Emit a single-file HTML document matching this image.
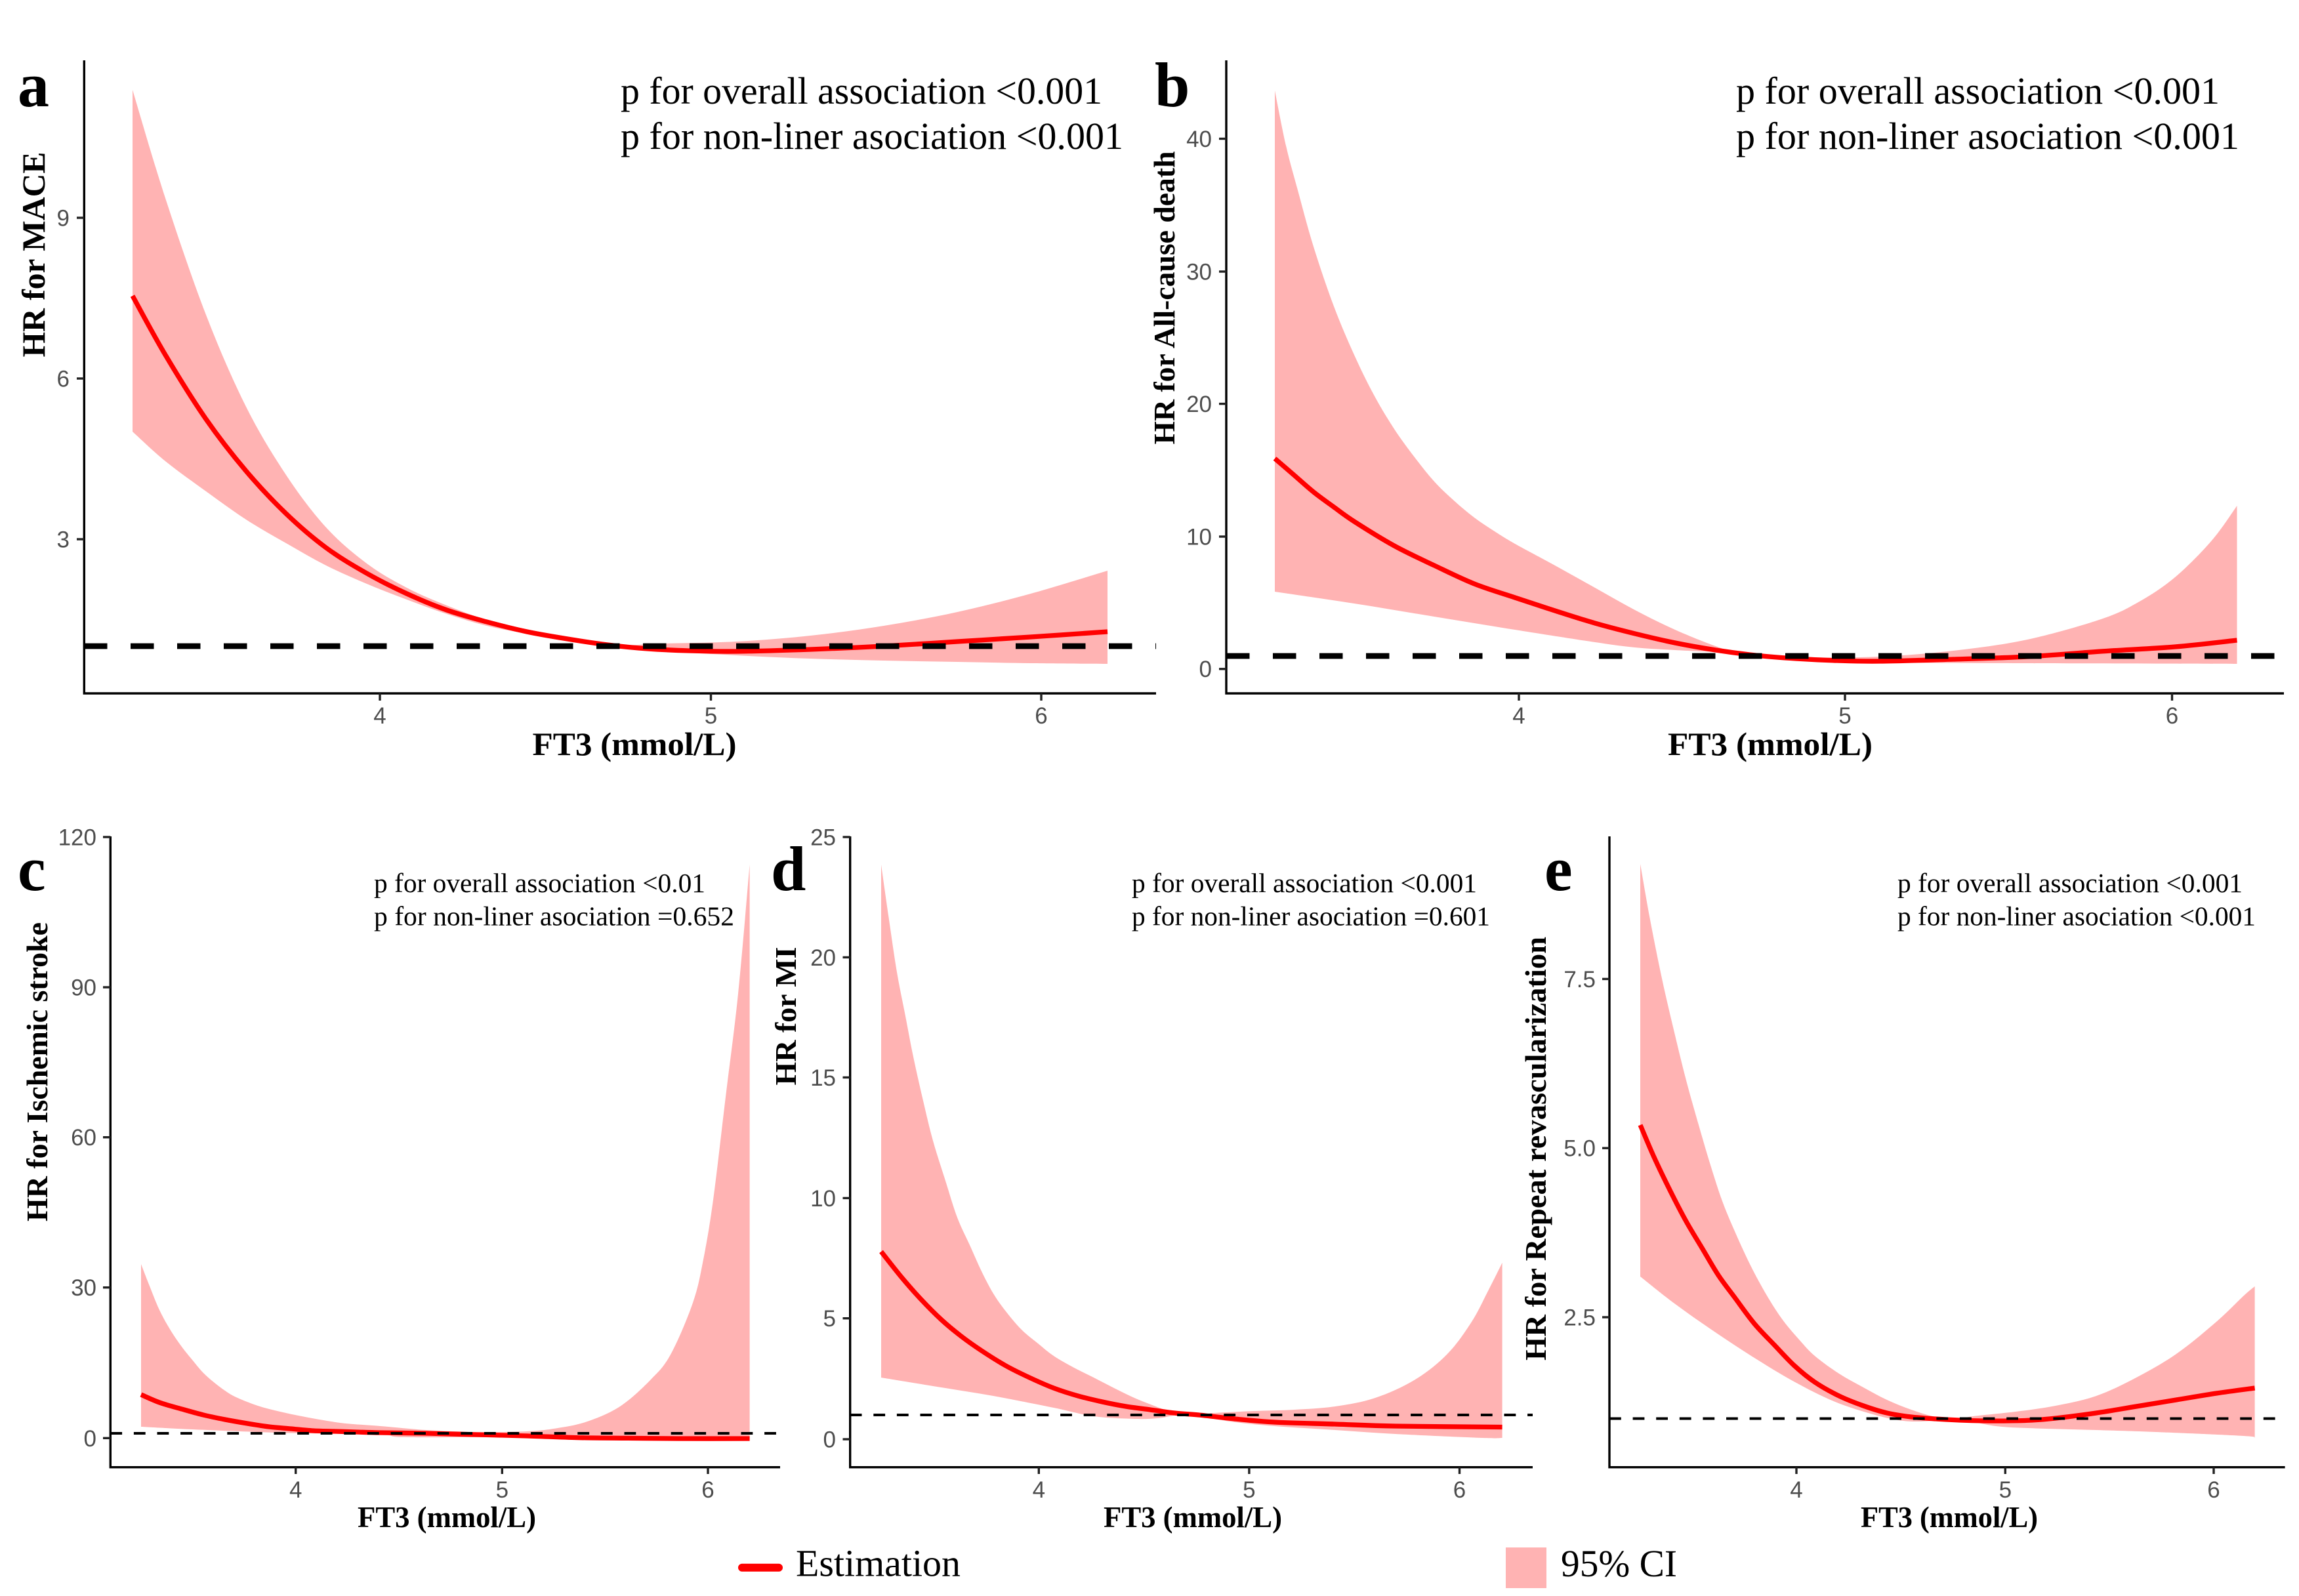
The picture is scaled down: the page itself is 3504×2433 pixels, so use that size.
<!DOCTYPE html>
<html>
<head>
<meta charset="utf-8">
<style>
  html, body { margin: 0; padding: 0; background: #ffffff; }
  svg { display: block; }
  .serif { font-family: "Liberation Serif", "Times New Roman", serif; }
  .sans { font-family: "Liberation Sans", Arial, sans-serif; }
  .tick { font-family: "Liberation Sans", Arial, sans-serif; font-size: 35px; fill: #4D4D4D; }
</style>
</head>
<body>
<svg id="fig" width="3504" height="2433" viewBox="0 0 3504 2433" xmlns="http://www.w3.org/2000/svg">
  <rect x="0" y="0" width="3504" height="2433" fill="#ffffff"/>

  <!-- ================= PANEL A ================= -->
  <polygon class="sm" fill="#FFB3B3" points="202,137 252,302 314,480 375,620 436,724 497,804 559,859 620,896 681,923 742,945 803,960 865,972 943,983 1010,981 1122,978 1235,969 1347,954 1459,933 1571,905 1688,870 1688,1012 1571,1011 1459,1009 1347,1007 1235,1004 1122,999 1010,992 943,983 865,975 803,966 742,954 681,936 620,914 559,890 497,862 436,828 375,792 314,749 252,703 202,658"/>
  <polyline class="sm" fill="none" stroke="#FF0000" stroke-width="7.3" stroke-linejoin="round" points="202,451 252,541 314,639 375,718 436,783 497,835 559,874 620,905 681,930 742,948 803,963 865,974 926,983 987,989 1050,992 1122,993 1235,990 1347,985 1459,978 1571,971 1688,963"/>
  <line x1="128" y1="985" x2="1762" y2="985" stroke="#000" stroke-width="8.7" stroke-dasharray="35.5 35.5"/>
  <polyline fill="none" stroke="#000" stroke-width="3.4" points="128.3,92 128.3,1057 1762,1057"/>
  <g stroke="#222" stroke-width="3.4">
    <line x1="117" y1="822" x2="128.3" y2="822"/>
    <line x1="117" y1="577" x2="128.3" y2="577"/>
    <line x1="117" y1="332" x2="128.3" y2="332"/>
    <line x1="579" y1="1057" x2="579" y2="1068"/>
    <line x1="1083.5" y1="1057" x2="1083.5" y2="1068"/>
    <line x1="1587" y1="1057" x2="1587" y2="1068"/>
  </g>
  <text class="tick" x="106" y="834.5" text-anchor="end">3</text>
  <text class="tick" x="106" y="589.5" text-anchor="end">6</text>
  <text class="tick" x="106" y="344.5" text-anchor="end">9</text>
  <text class="tick" x="579" y="1103" text-anchor="middle">4</text>
  <text class="tick" x="1083.5" y="1103" text-anchor="middle">5</text>
  <text class="tick" x="1587" y="1103" text-anchor="middle">6</text>
  <text class="serif" x="967" y="1151" text-anchor="middle" font-size="50" font-weight="bold" textLength="311" lengthAdjust="spacingAndGlyphs">FT3 (mmol/L)</text>
  <text class="serif" transform="translate(68,388) rotate(-90)" text-anchor="middle" font-size="50" font-weight="bold" textLength="313" lengthAdjust="spacingAndGlyphs">HR for MACE</text>
  <text class="serif" x="946" y="158" font-size="58" textLength="734" lengthAdjust="spacingAndGlyphs">p for overall association &lt;0.001</text>
  <text class="serif" x="946" y="227" font-size="58" textLength="766" lengthAdjust="spacingAndGlyphs">p for non-liner asociation &lt;0.001</text>
  <text class="serif" x="27" y="162" font-size="96" font-weight="bold">a</text>

  <!-- ================= PANEL B ================= -->
  <polygon class="sm" fill="#FFB3B3" points="1943,138 1960,222 1978,290 2002,376 2033,467 2064,541 2094,602 2125,654 2156,697 2186,734 2217,764 2247,789 2278,810 2309,829 2370,862 2431,896 2492,930 2553,960 2615,985 2655,996 2752,1002 2865,1001 2977,992 3090,975 3202,944 3259,918 3315,880 3371,824 3409.5,771 3409.5,1012 3090,1011 2865,1010 2752,1007 2655,996 2615,994 2553,991 2492,987 2431,979 2309,960 2186,940 2064,920 1943,902"/>
  <polyline class="sm" fill="none" stroke="#FF0000" stroke-width="7.3" stroke-linejoin="round" points="1943,699 1972,724 2002,750 2033,773 2064,795 2125,832 2186,862 2247,890 2309,911 2370,931 2431,950 2492,966 2553,980 2615,991 2676,999 2737,1004 2800,1007 2865,1008 2977,1005 3090,1001 3202,993 3315,986 3409.5,976"/>
  <line x1="1869" y1="1000" x2="3481" y2="1000" stroke="#000" stroke-width="8.7" stroke-dasharray="35.5 35.5"/>
  <polyline fill="none" stroke="#000" stroke-width="3.4" points="1869,92 1869,1057 3481,1057"/>
  <g stroke="#222" stroke-width="3.4">
    <line x1="1858" y1="1019.8" x2="1869" y2="1019.8"/>
    <line x1="1858" y1="818" x2="1869" y2="818"/>
    <line x1="1858" y1="615.6" x2="1869" y2="615.6"/>
    <line x1="1858" y1="414" x2="1869" y2="414"/>
    <line x1="1858" y1="211.5" x2="1869" y2="211.5"/>
    <line x1="2315" y1="1057" x2="2315" y2="1068"/>
    <line x1="2812" y1="1057" x2="2812" y2="1068"/>
    <line x1="3310.5" y1="1057" x2="3310.5" y2="1068"/>
  </g>
  <text class="tick" x="1847" y="1032" text-anchor="end">0</text>
  <text class="tick" x="1847" y="830.5" text-anchor="end">10</text>
  <text class="tick" x="1847" y="628" text-anchor="end">20</text>
  <text class="tick" x="1847" y="426.5" text-anchor="end">30</text>
  <text class="tick" x="1847" y="224" text-anchor="end">40</text>
  <text class="tick" x="2315" y="1103" text-anchor="middle">4</text>
  <text class="tick" x="2812" y="1103" text-anchor="middle">5</text>
  <text class="tick" x="3310.5" y="1103" text-anchor="middle">6</text>
  <text class="serif" x="2698" y="1151" text-anchor="middle" font-size="50" font-weight="bold" textLength="312" lengthAdjust="spacingAndGlyphs">FT3 (mmol/L)</text>
  <text class="serif" transform="translate(1790,454) rotate(-90)" text-anchor="middle" font-size="46" font-weight="bold" textLength="447" lengthAdjust="spacingAndGlyphs">HR for All-cause death</text>
  <text class="serif" x="2646" y="158" font-size="58" textLength="737" lengthAdjust="spacingAndGlyphs">p for overall association &lt;0.001</text>
  <text class="serif" x="2646" y="227" font-size="58" textLength="767" lengthAdjust="spacingAndGlyphs">p for non-liner asociation &lt;0.001</text>
  <text class="serif" x="1760" y="162" font-size="96" font-weight="bold">b</text>

  <!-- ================= PANEL C ================= -->
  <polygon class="sm" fill="#FFB3B3" points="215,1927 227,1958 243,1997 260,2028 277,2053 293,2073 310,2093 327,2108 343,2120 360,2130 393,2143 427,2152 460,2159 493,2165 527,2170 580,2174 650,2180 727,2183 803,2182 850,2177 895,2167 945,2144 991,2104 1022,2065 1056,1986 1072,1920 1087,1829 1106,1672 1125,1515 1142.6,1318 1142.6,2193 1033,2193 880,2192 727,2191 612,2190.8 580,2186.7 460,2185 393,2183 293,2179 215,2175"/>
  <polyline class="sm" fill="none" stroke="#FF0000" stroke-width="7.3" stroke-linejoin="round" points="215,2126 243,2138 277,2148 310,2157 343,2164 377,2170 410,2175 443,2178 477,2181 510,2182 543,2183 580,2184 650,2185 727,2187 804,2189 880,2191.6 957,2192.4 1033,2193 1142.6,2193"/>
  <line x1="168.3" y1="2185" x2="1189" y2="2185" stroke="#000" stroke-width="4" stroke-dasharray="17.8 17.8"/>
  <polyline fill="none" stroke="#000" stroke-width="3.4" points="168.3,1275 168.3,2236.7 1189,2236.7"/>
  <g stroke="#222" stroke-width="3.4">
    <line x1="157" y1="2192.3" x2="168.3" y2="2192.3"/>
    <line x1="157" y1="1962.7" x2="168.3" y2="1962.7"/>
    <line x1="157" y1="1733.7" x2="168.3" y2="1733.7"/>
    <line x1="157" y1="1505" x2="168.3" y2="1505"/>
    <line x1="157" y1="1276" x2="168.3" y2="1276"/>
    <line x1="450.7" y1="2236.7" x2="450.7" y2="2247"/>
    <line x1="765.3" y1="2236.7" x2="765.3" y2="2247"/>
    <line x1="1079" y1="2236.7" x2="1079" y2="2247"/>
  </g>
  <text class="tick" x="147" y="2205" text-anchor="end">0</text>
  <text class="tick" x="147" y="1975" text-anchor="end">30</text>
  <text class="tick" x="147" y="1746" text-anchor="end">60</text>
  <text class="tick" x="147" y="1517.5" text-anchor="end">90</text>
  <text class="tick" x="147" y="1288.5" text-anchor="end">120</text>
  <text class="tick" x="450.7" y="2283" text-anchor="middle">4</text>
  <text class="tick" x="765.3" y="2283" text-anchor="middle">5</text>
  <text class="tick" x="1079" y="2283" text-anchor="middle">6</text>
  <text class="serif" x="681" y="2328" text-anchor="middle" font-size="45" font-weight="bold" textLength="272" lengthAdjust="spacingAndGlyphs">FT3 (mmol/L)</text>
  <text class="serif" transform="translate(72,1634) rotate(-90)" text-anchor="middle" font-size="46" font-weight="bold" textLength="456" lengthAdjust="spacingAndGlyphs">HR for Ischemic stroke</text>
  <text class="serif" x="570" y="1360" font-size="41" textLength="505" lengthAdjust="spacingAndGlyphs">p for overall association &lt;0.01</text>
  <text class="serif" x="570" y="1410.5" font-size="41" textLength="549" lengthAdjust="spacingAndGlyphs">p for non-liner asociation =0.652</text>
  <text class="serif" x="27" y="1357" font-size="96" font-weight="bold">c</text>

  <!-- ================= PANEL D ================= -->
  <polygon class="sm" fill="#FFB3B3" points="1343,1318 1355,1402 1367,1482 1380,1549 1392,1611 1407,1678 1422,1739 1441,1800 1459,1856 1478,1898 1496,1938 1514,1972 1533,1999 1557,2027 1582,2048 1606,2067 1637,2085 1667,2100 1698,2116 1729,2131 1759,2143 1790,2154 1808,2157 1851,2154 1912,2151 1973,2149 2035,2144 2096,2131 2157,2103 2206,2064 2243,2015 2268,1968 2289.6,1925 2289.6,2192 2260,2192 2127,2186 2035,2180 1943,2174 1882,2168 1808,2157 1765,2162 1729,2163 1667,2159 1606,2146 1514,2128 1422,2113 1343,2100"/>
  <polyline class="sm" fill="none" stroke="#FF0000" stroke-width="7.3" stroke-linejoin="round" points="1343,1908 1374,1947 1404,1981 1435,2012 1465,2037 1496,2059 1533,2082 1569,2100 1606,2116 1643,2128 1680,2137 1716,2144 1753,2149 1790,2154 1827,2157 1882,2163 1943,2168 2035,2171 2127,2174 2289.6,2175.5"/>
  <line x1="1295.7" y1="2157" x2="2336" y2="2157" stroke="#000" stroke-width="4" stroke-dasharray="17.8 17.8"/>
  <polyline fill="none" stroke="#000" stroke-width="3.4" points="1295.7,1275 1295.7,2236.7 2336,2236.7"/>
  <g stroke="#222" stroke-width="3.4">
    <line x1="1284.5" y1="2194" x2="1295.7" y2="2194"/>
    <line x1="1284.5" y1="2009.7" x2="1295.7" y2="2009.7"/>
    <line x1="1284.5" y1="1826.4" x2="1295.7" y2="1826.4"/>
    <line x1="1284.5" y1="1642.5" x2="1295.7" y2="1642.5"/>
    <line x1="1284.5" y1="1459.4" x2="1295.7" y2="1459.4"/>
    <line x1="1284.5" y1="1276" x2="1295.7" y2="1276"/>
    <line x1="1583.3" y1="2236.7" x2="1583.3" y2="2247"/>
    <line x1="1903.9" y1="2236.7" x2="1903.9" y2="2247"/>
    <line x1="2224.5" y1="2236.7" x2="2224.5" y2="2247"/>
  </g>
  <text class="tick" x="1274" y="2206.5" text-anchor="end">0</text>
  <text class="tick" x="1274" y="2022" text-anchor="end">5</text>
  <text class="tick" x="1274" y="1839" text-anchor="end">10</text>
  <text class="tick" x="1274" y="1655" text-anchor="end">15</text>
  <text class="tick" x="1274" y="1472" text-anchor="end">20</text>
  <text class="tick" x="1274" y="1288.5" text-anchor="end">25</text>
  <text class="tick" x="1583.3" y="2283" text-anchor="middle">4</text>
  <text class="tick" x="1903.9" y="2283" text-anchor="middle">5</text>
  <text class="tick" x="2224.5" y="2283" text-anchor="middle">6</text>
  <text class="serif" x="1818" y="2328" text-anchor="middle" font-size="45" font-weight="bold" textLength="272" lengthAdjust="spacingAndGlyphs">FT3 (mmol/L)</text>
  <text class="serif" transform="translate(1213,1549) rotate(-90)" text-anchor="middle" font-size="46" font-weight="bold" textLength="211" lengthAdjust="spacingAndGlyphs">HR for MI</text>
  <text class="serif" x="1725" y="1360" font-size="41" textLength="526" lengthAdjust="spacingAndGlyphs">p for overall association &lt;0.001</text>
  <text class="serif" x="1725" y="1410.5" font-size="41" textLength="546" lengthAdjust="spacingAndGlyphs">p for non-liner asociation =0.601</text>
  <text class="serif" x="1175" y="1357" font-size="96" font-weight="bold">d</text>

  <!-- ================= PANEL E ================= -->
  <polygon class="sm" fill="#FFB3B3" points="2500,1317 2515,1402 2533.5,1494 2552,1574 2570,1647 2589,1715 2607,1776 2625,1831 2644,1877 2668,1929 2693,1975 2717,2012 2742,2042 2766,2067 2803,2094 2840,2115 2876,2134 2913,2149 2950,2160 2980,2163 3011,2158.5 3072,2152 3133,2143 3195,2128 3256,2100 3317,2064 3378,2015 3420,1975 3436.6,1961 3436.6,2192 3420,2189 3286,2183 3195,2180 3103,2177.5 3042,2174 2980,2163 2937,2166.5 2901,2166 2858,2157 2797,2137 2735,2106.5 2674,2070 2613,2030 2552,1987 2500,1946"/>
  <polyline class="sm" fill="none" stroke="#FF0000" stroke-width="7.3" stroke-linejoin="round" points="2500,1715 2521,1764 2546,1816 2570,1862 2595,1904 2619,1944 2644,1978 2674,2018 2705,2051 2735,2082 2766,2107 2803,2128 2840,2143 2876,2154 2913,2160 2950,2163 2987,2165 3023,2166 3060,2166 3097,2165 3133,2162 3195,2154 3256,2144 3317,2134 3378,2124 3436.6,2116"/>
  <line x1="2453" y1="2162.5" x2="3482.6" y2="2162.5" stroke="#000" stroke-width="4" stroke-dasharray="17.8 17.8"/>
  <polyline fill="none" stroke="#000" stroke-width="3.4" points="2453,1275 2453,2236.7 3482.6,2236.7"/>
  <g stroke="#222" stroke-width="3.4">
    <line x1="2442" y1="2008" x2="2453" y2="2008"/>
    <line x1="2442" y1="1750.2" x2="2453" y2="1750.2"/>
    <line x1="2442" y1="1492.4" x2="2453" y2="1492.4"/>
    <line x1="2738" y1="2236.7" x2="2738" y2="2247"/>
    <line x1="3056.3" y1="2236.7" x2="3056.3" y2="2247"/>
    <line x1="3374" y1="2236.7" x2="3374" y2="2247"/>
  </g>
  <text class="tick" x="2432" y="2020.5" text-anchor="end">2.5</text>
  <text class="tick" x="2432" y="1762.7" text-anchor="end">5.0</text>
  <text class="tick" x="2432" y="1505" text-anchor="end">7.5</text>
  <text class="tick" x="2738" y="2283" text-anchor="middle">4</text>
  <text class="tick" x="3056.3" y="2283" text-anchor="middle">5</text>
  <text class="tick" x="3374" y="2283" text-anchor="middle">6</text>
  <text class="serif" x="2971" y="2328" text-anchor="middle" font-size="45" font-weight="bold" textLength="270" lengthAdjust="spacingAndGlyphs">FT3 (mmol/L)</text>
  <text class="serif" transform="translate(2356,1751) rotate(-90)" text-anchor="middle" font-size="46" font-weight="bold" textLength="646" lengthAdjust="spacingAndGlyphs">HR for Repeat revascularization</text>
  <text class="serif" x="2892" y="1360" font-size="41" textLength="526" lengthAdjust="spacingAndGlyphs">p for overall association &lt;0.001</text>
  <text class="serif" x="2892" y="1410.5" font-size="41" textLength="546" lengthAdjust="spacingAndGlyphs">p for non-liner asociation &lt;0.001</text>
  <text class="serif" x="2354" y="1357" font-size="96" font-weight="bold">e</text>

  <!-- ================= LEGEND ================= -->
  <line x1="1131" y1="2389.7" x2="1187" y2="2389.7" stroke="#FF0000" stroke-width="12" stroke-linecap="round"/>
  <text class="serif" x="1213" y="2402.3" font-size="58" textLength="251" lengthAdjust="spacingAndGlyphs">Estimation</text>
  <rect x="2295" y="2359" width="62" height="62" fill="#FFB3B3"/>
  <text class="serif" x="2379" y="2403" font-size="58" textLength="177" lengthAdjust="spacingAndGlyphs">95% CI</text>
</svg>
<script>
(function(){
  var ns = 'http://www.w3.org/2000/svg';
  function parse(el){
    return el.getAttribute('points').trim().split(/\s+/).map(function(s){
      var a = s.split(','); return [parseFloat(a[0]), parseFloat(a[1])];
    });
  }
  function cr(pts){
    var d = '';
    var n = pts.length;
    for (var i = 0; i < n - 1; i++){
      var p0 = pts[i > 0 ? i - 1 : 0], p1 = pts[i], p2 = pts[i + 1], p3 = pts[i + 2 < n ? i + 2 : n - 1];
      var c1x = p1[0] + (p2[0] - p0[0]) / 6, c1y = p1[1] + (p2[1] - p0[1]) / 6;
      var c2x = p2[0] - (p3[0] - p1[0]) / 6, c2y = p2[1] - (p3[1] - p1[1]) / 6;
      d += ' C' + c1x.toFixed(2) + ',' + c1y.toFixed(2) + ' ' + c2x.toFixed(2) + ',' + c2y.toFixed(2) + ' ' + p2[0] + ',' + p2[1];
    }
    return d;
  }
  function copyAttrs(src, dst, list){
    list.forEach(function(a){ var v = src.getAttribute(a); if (v !== null) dst.setAttribute(a, v); });
  }
  try {
    var lines = document.querySelectorAll('polyline.sm');
    for (var i = 0; i < lines.length; i++){
      var el = lines[i];
      var p = parse(el);
      var path = document.createElementNS(ns, 'path');
      path.setAttribute('d', 'M' + p[0][0] + ',' + p[0][1] + cr(p));
      copyAttrs(el, path, ['fill', 'stroke', 'stroke-width', 'stroke-linejoin']);
      el.parentNode.replaceChild(path, el);
    }
    var polys = document.querySelectorAll('polygon.sm');
    for (var j = 0; j < polys.length; j++){
      var pg = polys[j];
      var q = parse(pg);
      var mx = -1e9, k = 0;
      for (var m = 0; m < q.length; m++){ if (q[m][0] > mx){ mx = q[m][0]; k = m; } }
      var up = q.slice(0, k + 1), lo = q.slice(k + 1);
      var d = 'M' + up[0][0] + ',' + up[0][1] + cr(up) + ' L' + lo[0][0] + ',' + lo[0][1] + cr(lo) + ' Z';
      var pth = document.createElementNS(ns, 'path');
      pth.setAttribute('d', d);
      copyAttrs(pg, pth, ['fill']);
      pg.parentNode.replaceChild(pth, pg);
    }
  } catch (e) {}
})();
</script>
</body>
</html>
